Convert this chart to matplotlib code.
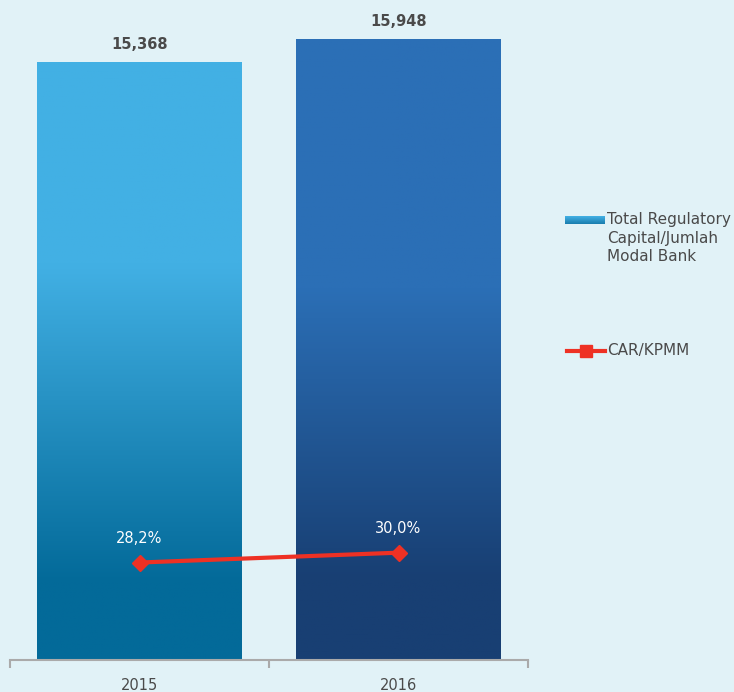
import numpy as np
import matplotlib
matplotlib.use("Agg")
from matplotlib import pyplot as plt
from matplotlib.colors import LinearSegmentedColormap
from matplotlib.lines import Line2D

years = ["2015", "2016"]
capital = [15368, 15948]
capital_labels = ["15,368", "15,948"]
car = [28.2, 30.0]
car_labels = ["28,2%", "30,0%"]

bg = "#e1f2f7"
txt = "#4a4a4a"
red = "#ee3124"

# gradient (bottom -> top) for each bar
grad_1 = LinearSegmentedColormap.from_list(
    "g1", [(0, "#036a99"), (0.13, "#036a99"), (0.66, "#42b0e4"), (1, "#42b0e4")])
grad_2 = LinearSegmentedColormap.from_list(
    "g2", [(0, "#183f73"), (0.13, "#183f73"), (0.60, "#2b6fb6"), (1, "#2b6fb6")])

fig = plt.figure(figsize=(7.34, 6.92), dpi=100, facecolor=bg)
ax = fig.add_axes([10 / 734, 32 / 692, 518 / 734, 650 / 692])
ax.set_facecolor(bg)

x = np.arange(len(years))
bars = ax.bar(x, capital, width=0.79, color="none", zorder=2)
ramp = np.linspace(0, 1, 256).reshape(-1, 1)
for b, cmap in zip(bars, [grad_1, grad_2]):
    x0, y0 = b.get_x(), b.get_y()
    im = ax.imshow(ramp, cmap=cmap, origin="lower", aspect="auto",
                   extent=(x0, x0 + b.get_width(), y0, y0 + b.get_height()), zorder=1)
    im.set_clip_path(b)

for xi, v, lab in zip(x, capital, capital_labels):
    ax.annotate(lab, (xi, v), xytext=(0, 7), textcoords="offset points",
                ha="center", va="bottom", fontsize=10.5, fontweight="bold", color=txt)

ax.set_xlim(-0.5, 1.5)
ax.set_ylim(0, 16693)
ax.set_yticks([])
for s in ["top", "right", "left"]:
    ax.spines[s].set_visible(False)
ax.spines["bottom"].set_color("#aaaaaa")
ax.spines["bottom"].set_linewidth(1.5)
ax.set_xticks([-0.5, 0.5, 1.5])
ax.set_xticklabels([])
ax.tick_params(axis="x", length=6, width=1.5, color="#aaaaaa")
ax.set_xticks(x, minor=True)
ax.set_xticklabels(years, minor=True)
ax.tick_params(axis="x", which="minor", length=0, pad=13, labelsize=10.5, labelcolor=txt)

ax2 = ax.twinx()
ax2.set_ylim(10.4, 129.1)
ax2.plot(x, car, color=red, lw=3, marker="D", markersize=8, zorder=3)
for xi, v, lab in zip(x, car, car_labels):
    ax2.annotate(lab, (xi, v), xytext=(0, 12), textcoords="offset points",
                 ha="center", va="bottom", fontsize=10.5, color="white")
ax2.axis("off")

# legend
sw = fig.add_axes([565 / 734, (692 - 224) / 692, 40 / 734, 8 / 692])
sw.imshow(np.linspace(1, 0, 16).reshape(-1, 1),
          cmap=LinearSegmentedColormap.from_list("sw", ["#1a7eaf", "#42b0e4"]),
          aspect="auto")
sw.axis("off")
fig.text(607 / 734, (692 - 212) / 692, "Total Regulatory\nCapital/Jumlah\nModal Bank",
         ha="left", va="top", fontsize=11, color=txt, linespacing=1.3)
fig.add_artist(Line2D([567 / 734, 605 / 734], [(692 - 351) / 692] * 2, color=red, lw=3))
fig.add_artist(Line2D([586 / 734], [(692 - 351) / 692], color=red, marker="s", markersize=8))
fig.text(607 / 734, (692 - 351) / 692, "CAR/KPMM", ha="left", va="center",
         fontsize=11, color=txt)

fig.savefig("out.png", dpi=100, facecolor=bg)
